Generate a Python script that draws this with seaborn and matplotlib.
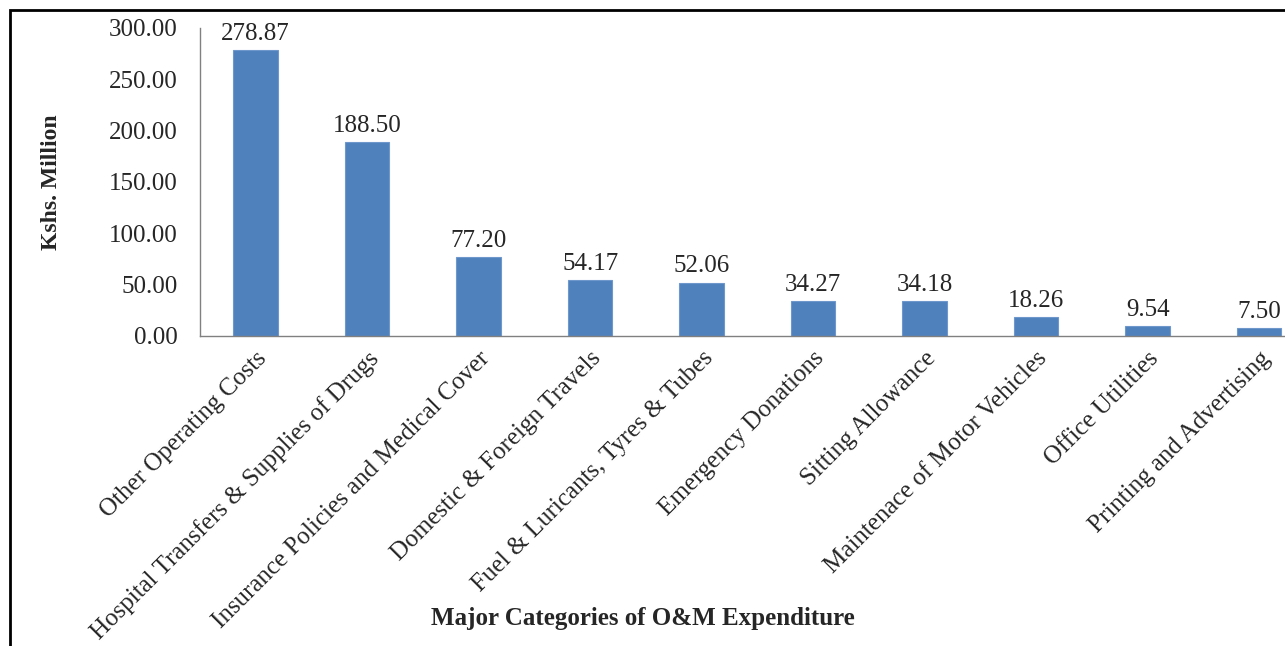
import matplotlib
matplotlib.use('Agg')
import matplotlib.pyplot as plt
import matplotlib.patches as patches
import numpy as np
import pandas as pd
import seaborn as sns

# Dados do gráfico
categorias = [
    "Other Operating Costs",
    "Hospital Transfers & Supplies of Drugs",
    "Insurance Policies and Medical Cover",
    "Domestic & Foreign Travels",
    "Fuel & Luricants, Tyres & Tubes",
    "Emergency Donations",
    "Sitting Allowance",
    "Maintenace of Motor Vehicles",
    "Office Utilities",
    "Printing and Advertising",
]
valores = [278.87, 188.50, 77.20, 54.17, 52.06, 34.27, 34.18, 18.26, 9.54, 7.50]
y_ticks = [0, 50, 100, 150, 200, 250, 300]

df = pd.DataFrame({"categoria": categorias, "valor": valores})

sns.set_style("white")
plt.rcParams['font.family'] = ['Liberation Serif', 'DejaVu Serif']

fig = plt.figure(figsize=(12.85, 6.46), dpi=100)
ax = fig.add_axes([0.1556, 0.4799, 0.8677, 0.4768])

sns.barplot(data=df, x="categoria", y="valor", color="#4F81BD", width=0.4,
            edgecolor="#6E97CB", linewidth=0.8, saturation=1, ax=ax)

# Rótulos de valor acima das barras
for i, v in enumerate(valores):
    ax.text(i, v + 5, "{:.2f}".format(v), ha='center', va='bottom', fontsize=18)

ax.set_ylim(0, 300)
ax.set_xlim(-0.5, len(categorias) - 0.5)
ax.set_yticks(y_ticks)
ax.set_yticklabels(["{:.2f}".format(t) for t in y_ticks], fontsize=18)
ax.set_xticks(range(len(categorias)))
ax.set_xticklabels(categorias, rotation=45, ha='right', rotation_mode='anchor', fontsize=18)
ax.tick_params(axis='x', which='major', length=0, pad=8)
ax.set_xticks(np.arange(0.5, len(categorias) - 0.5, 1), minor=True)
ax.tick_params(axis='x', which='minor', length=6, color='#808080', width=1, direction='out')
ax.tick_params(axis='y', length=6, color='#808080', width=1, direction='out', pad=10)

for s in ['top', 'right']:
    ax.spines[s].set_visible(False)
for s in ['left', 'bottom']:
    ax.spines[s].set_color('#808080')
    ax.spines[s].set_linewidth(1)

ax.set_xlabel("")
ax.set_ylabel("Kshs. Million", fontsize=17, fontweight='bold')
ax.yaxis.set_label_coords((62 - 200) / 1115, 0.5)
fig.text(643 / 1285, 1 - 618 / 646, "Major Categories of O&M Expenditure",
         ha='center', va='center', fontsize=18, fontweight='bold')

# Moldura preta (esquerda e topo)
borda = patches.Rectangle((10 / 1285, -0.1), 1.1, 1 - 10 / 646 + 0.1,
                          transform=fig.transFigure, fill=False,
                          edgecolor='black', linewidth=2, clip_on=False)
fig.patches.append(borda)

fig.savefig("out.png", dpi=100)
